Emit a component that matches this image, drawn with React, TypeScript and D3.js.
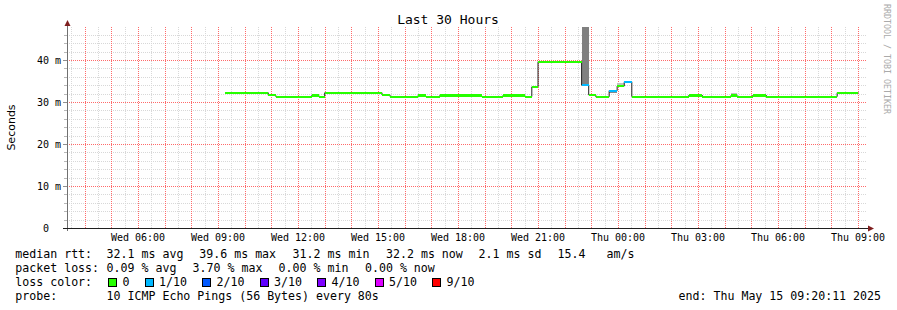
import React from "react";
import * as d3 from "d3";

// ---------- data ----------
const rangeStart = "2025-05-14T03:20:11";
const rangeEnd = "2025-05-15T09:20:11";

const segStart = [
  "2025-05-14T09:16:00", "2025-05-14T10:53:00", "2025-05-14T11:10:00", "2025-05-14T12:31:00",
  "2025-05-14T12:47:00", "2025-05-14T13:00:00", "2025-05-14T15:09:00", "2025-05-14T15:27:00",
  "2025-05-14T16:30:00", "2025-05-14T16:47:00", "2025-05-14T17:19:00", "2025-05-14T18:53:00",
  "2025-05-14T19:41:00", "2025-05-14T20:30:00", "2025-05-14T20:46:00", "2025-05-14T21:00:00",
  "2025-05-14T22:38:00", "2025-05-14T22:54:00", "2025-05-14T23:10:00", "2025-05-14T23:40:00",
  "2025-05-14T23:58:00", "2025-05-15T00:14:00", "2025-05-15T00:31:00", "2025-05-15T02:39:00",
  "2025-05-15T03:10:00", "2025-05-15T04:14:00", "2025-05-15T04:28:00", "2025-05-15T05:03:00",
  "2025-05-15T05:34:00", "2025-05-15T08:13:00",
];
const dataEnd = "2025-05-15T09:01:00";
const segMedian = [
  32.2, 31.6, 31.3, 31.55, 31.3, 32.2, 31.7, 31.3,
  31.55, 31.3, 31.55, 31.3, 31.55, 31.3, 33.6, 39.6,
  34.0, 31.7, 31.25, 32.7, 33.8, 34.8, 31.3, 31.55,
  31.3, 31.55, 31.3, 31.55, 31.3, 32.2,
];
const segLoss = [
  0, 0, 0, 0, 0, 0, 0, 0,
  0, 0, 0, 0, 0, 0, 0, 0,
  1, 0, 0, 1, 0, 1, 0, 0,
  0, 0, 0, 0, 0, 0,
];

const smokeStart = ["2025-05-14T22:38:00", "2025-05-14T23:40:00", "2025-05-14T23:58:00", "2025-05-15T04:14:00"];
const smokeEnd = ["2025-05-14T22:54:00", "2025-05-14T23:58:00", "2025-05-15T00:14:00", "2025-05-15T04:28:00"];
const smokeLow = [34.0, 32.1, 33.8, 31.55];
const smokeHigh = [49.0, 32.7, 34.5, 32.05];
const smokeShade = ["#808080", "#888888", "#c0c0c0", "#c0c0c0"];

const lossLabels = ["0", "1/10", "2/10", "3/10", "4/10", "5/10", "9/10"];
const lossColors = ["#26ff00", "#00b8ff", "#0059ff", "#5e00ff", "#7e00ff", "#dd00ff", "#ff0000"];

const yMajor = [0, 10, 20, 30, 40];
const yMajorLabels = ["0  ", "10 m", "20 m", "30 m", "40 m"];
const yMinorStep = 2;
const yMax = 46;

const title = "Last 30 Hours";
const yTitle = "Seconds";
const watermark = "RRDTOOL / TOBI OETIKER";

const rttLabels = ["median rtt:", "32.1 ms avg", "39.6 ms max", "31.2 ms min", "32.2 ms now", "2.1 ms sd", "15.4", "am/s"];
const lossRowLabels = ["packet loss:", "0.09 % avg", "3.70 % max", "0.00 % min", "0.00 % now"];
const lossColorTitle = "loss color:";
const probeLabels = ["probe:", "10 ICMP Echo Pings (56 Bytes) every 80s"];
const endLabel = "end: Thu May 15 09:20:11 2025";

// ---------- layout ----------
const W = 897, H = 310;
const L = 67, R = 867, T = 27, B = 228;
const MONO = "'DejaVu Sans Mono', monospace";
const SANS = "'DejaVu Sans', sans-serif";

const rttX = [15.3, 106.6, 199.3, 292.6, 386, 478.6, 557.6, 606.6];
const lossRowX = [15.3, 106.6, 192.6, 278.6, 365];
const legendBaselines = [258, 272, 286, 300];

export default function App() {
  const x = d3.scaleTime().domain([new Date(rangeStart), new Date(rangeEnd)]).range([L, R]);
  const y = d3.scaleLinear().domain([0, 40]).range([B, 60]);

  const minorY = d3.range(0, yMax + 0.01, yMinorStep).filter((v) => v % 10 !== 0);
  const hours = d3.timeHour.every(1)!.range(new Date(rangeStart), new Date(rangeEnd));
  const halfHours = d3.timeMinute.every(30)!.range(new Date(rangeStart), new Date(rangeEnd)).filter((d) => d.getMinutes() === 30);
  const labelTicks = hours.filter((d) => d.getHours() % 3 === 0);
  const fmt = d3.timeFormat("%a %H:%M");

  const pts: [Date, number][] = segStart.map((s, i) => [new Date(s), segMedian[i]]);
  pts.push([new Date(dataEnd), segMedian[segMedian.length - 1]]);
  const line = d3.line<[Date, number]>().x((d) => x(d[0])).y((d) => y(d[1])).curve(d3.curveStepAfter);

  const boxes: { bx: number; tx: number; c: string; l: string }[] = [];
  let bx = 108;
  lossLabels.forEach((l, i) => {
    const tx = bx + 14.5;
    boxes.push({ bx, tx, c: lossColors[i], l });
    bx = tx + l.length * 7 + 15;
  });

  const px = (v: number) => Math.round(v) + 0.5;
  const MINOR = "#d8d8d8";
  const MAJOR = "#ff6a6a";

  return (
    <svg width={W} height={H} style={{ display: "block", position: "absolute", left: 0, top: 0, background: "#fff" }}>
      <defs>
        <clipPath id="plot">
          <rect x={L} y={T} width={R - L} height={B - T} />
        </clipPath>
      </defs>
      <rect x={0} y={0} width={W} height={H} fill="#fff" />

      {/* grid */}
      <g>
        {minorY.map((v) => (
          <line key={"my" + v} x1={L} x2={R} y1={px(y(v))} y2={px(y(v))} stroke={MINOR} strokeDasharray="1,1" />
        ))}
        {halfHours.map((d, i) => (
          <line key={"mx" + i} x1={px(x(d))} x2={px(x(d))} y1={T} y2={B} stroke={MINOR} strokeDasharray="1,1" />
        ))}
        {hours.map((d, i) => (
          <line key={"hx" + i} x1={px(x(d))} x2={px(x(d))} y1={T} y2={B} stroke={MAJOR} strokeDasharray="1,1" />
        ))}
        {yMajor.filter((v) => v > 0).map((v) => (
          <line key={"My" + v} x1={L} x2={R} y1={px(y(v))} y2={px(y(v))} stroke={MAJOR} strokeDasharray="1,1" />
        ))}
        {minorY.map((v) => (
          <line key={"ty" + v} x1={L - 3} x2={L} y1={px(y(v))} y2={px(y(v))} stroke="#b8b8b8" />
        ))}
        {yMajor.map((v) => (
          <line key={"tY" + v} x1={L - 4} x2={L} y1={px(y(v))} y2={px(y(v))} stroke="#909090" />
        ))}
      </g>

      {/* smoke */}
      <g clipPath="url(#plot)" shapeRendering="crispEdges">
        {smokeStart.map((s, i) => (
          <rect key={"s" + i} x={x(new Date(s))} width={x(new Date(smokeEnd[i])) - x(new Date(s))}
            y={y(smokeHigh[i])} height={y(smokeLow[i]) - y(smokeHigh[i])} fill={smokeShade[i]} />
        ))}
      </g>

      {/* median line + loss colored bands */}
      <path d={line(pts) || ""} fill="none" stroke="#202020" strokeWidth={1} />
      <g shapeRendering="crispEdges">
        {segStart.map((s, i) => {
          const x0 = x(new Date(s));
          const x1 = x(new Date(i + 1 < segStart.length ? segStart[i + 1] : dataEnd));
          return (
            <rect key={"b" + i} x={x0} width={x1 - x0} y={y(segMedian[i]) - 1} height={2.2} fill={lossColors[segLoss[i]]} />
          );
        })}
      </g>

      {/* axes */}
      <line x1={L + 0.5} x2={L + 0.5} y1={B + 3} y2={T - 4} stroke="#707070" strokeWidth={1} shapeRendering="crispEdges" />
      <line x1={L - 4} x2={R + 3} y1={B + 0.5} y2={B + 0.5} stroke="#1f1f1f" strokeWidth={1} shapeRendering="crispEdges" />
      <path d={`M${L + 0.5},${T - 7} L${L - 2.5},${T - 1} L${L + 3.5},${T - 1} Z`} fill="#7f1f1f" />
      <path d={`M${R + 7},${B + 0.5} L${R + 1},${B - 2.5} L${R + 1},${B + 3.5} Z`} fill="#7f1f1f" />

      {/* y labels */}
      {yMajor.map((v, i) => (
        <text key={"yl" + v} x={61} y={y(v) + 3.6} textAnchor="end" fontFamily={MONO} fontSize={10} fill="#000" style={{ whiteSpace: "pre" }}>
          {yMajorLabels[i]}
        </text>
      ))}

      {/* x labels */}
      {labelTicks.map((d, i) => (
        <text key={"xl" + i} x={x(d)} y={241} textAnchor="middle" fontFamily={MONO} fontSize={10} fill="#000">
          {fmt(d)}
        </text>
      ))}

      {/* titles */}
      <text x={448} y={24} textAnchor="middle" fontFamily={MONO} fontSize={13} fill="#000">{title}</text>
      <text transform={`translate(15,${(T + B) / 2}) rotate(-90)`} textAnchor="middle" fontFamily={SANS} fontSize={11} fill="#000">{yTitle}</text>
      <text transform="translate(884,4) rotate(90)" fontFamily={MONO} fontSize={8.3} fill="#aaaaaa">{watermark}</text>

      {/* legend */}
      <g fontFamily={MONO} fontSize={11.6} fill="#000">
        {rttLabels.map((t, i) => (
          <text key={"r" + i} x={rttX[i]} y={legendBaselines[0]}>{t}</text>
        ))}
        {lossRowLabels.map((t, i) => (
          <text key={"p" + i} x={lossRowX[i]} y={legendBaselines[1]}>{t}</text>
        ))}
        <text x={15.3} y={legendBaselines[2]}>{lossColorTitle}</text>
        {boxes.map((b, i) => (
          <g key={"lb" + i}>
            <rect x={b.bx + 0.5} y={legendBaselines[2] - 7.5} width={8} height={8} fill={b.c} stroke="#000" strokeWidth={1} shapeRendering="crispEdges" />
            <text x={b.tx} y={legendBaselines[2]}>{b.l}</text>
          </g>
        ))}
        <text x={15.3} y={legendBaselines[3]}>{probeLabels[0]}</text>
        <text x={106.6} y={legendBaselines[3]}>{probeLabels[1]}</text>
        <text x={881} y={legendBaselines[3]} textAnchor="end">{endLabel}</text>
      </g>
    </svg>
  );
}
